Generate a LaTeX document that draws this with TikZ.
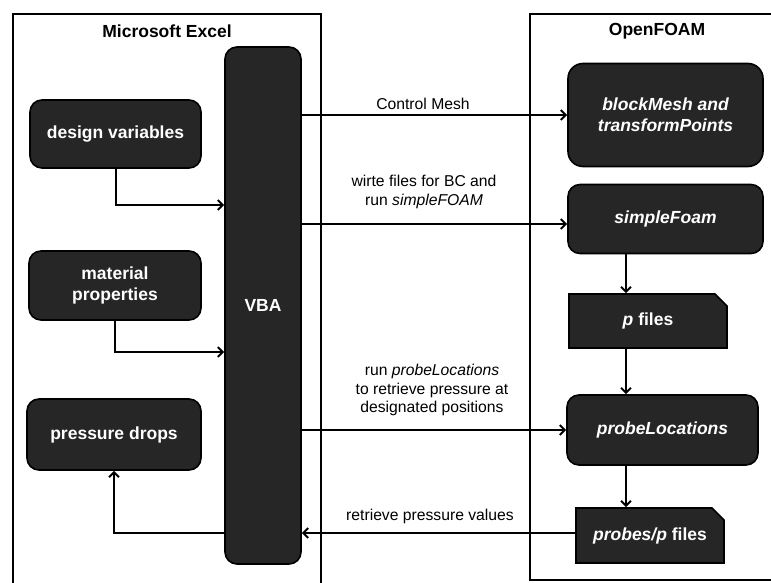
\documentclass[tikz,border=0pt]{standalone}
\usepackage{fontspec}
\setmainfont{Liberation Sans}
\usetikzlibrary{arrows.meta,shapes.misc}
\definecolor{boxfill}{HTML}{262626}
\tikzset{
  frameline/.style={line width=2pt, black},
  darkbox/.style={draw=black, line width=1.6pt, fill=boxfill, rounded corners=12pt,
    text=white, align=center, inner sep=0pt,
    font=\fontsize{17.5}{21}\selectfont\bfseries},
  filebox/.style={draw=black, line width=1.6pt, fill=boxfill, chamfered rectangle,
    chamfered rectangle corners=north east, chamfered rectangle xsep=6pt,
    chamfered rectangle ysep=6pt,
    text=white, align=center, inner sep=0pt,
    font=\fontsize{17.5}{21}\selectfont\bfseries},
  conn/.style={line width=2pt, -{Straight Barb[length=5pt,width=10pt,line width=2pt]}},
  lbl/.style={align=center, inner sep=0pt, font=\fontsize{15.7}{18.5}\selectfont},
  ttl/.style={inner sep=0pt, font=\fontsize{17.5}{21}\selectfont\bfseries}
}
\begin{document}
\begin{tikzpicture}[x=1pt,y=-1pt]
\useasboundingbox (0,0) rectangle (771,583);
% frames
\draw[frameline] (13,583) -- (13,14) -- (321,14) -- (321,583);
\draw[frameline] (771,14) -- (530,14) -- (530,580) -- (771,580);
\node[ttl] (t1) at (167,31) {Microsoft Excel};
\node[ttl] (t2) at (657,31) {OpenFOAM};
% Excel boxes
\node[darkbox, minimum width=171pt, minimum height=68pt] (design) at (115.5,134) {design variables};
\node[darkbox, minimum width=172pt, minimum height=69pt] (material) at (115,285.5) {material\\properties};
\node[darkbox, minimum width=174pt, minimum height=71pt] (drops) at (114,434.5) {pressure drops};
\node[darkbox, minimum width=76pt, minimum height=517pt] (vba) at (263,305.5) {VBA};
% OpenFOAM boxes
\node[darkbox, rounded corners=15pt, minimum width=195pt, minimum height=103pt] (block) at (665.5,115) {\itshape blockMesh and\\\itshape transformPoints};
\node[darkbox, minimum width=195pt, minimum height=69pt] (simple) at (665.5,219) {\itshape simpleFoam};
\node[filebox, minimum width=158pt, minimum height=54pt] (pfiles) at (648,321) {\itshape p\upshape{} files};
\node[darkbox, minimum width=191pt, minimum height=70pt] (probe) at (662.5,430) {\itshape probeLocations};
\node[filebox, minimum width=148pt, minimum height=55pt] (probes) at (650,535.5) {\itshape probes/p\upshape{} files};
% helper coordinates
\coordinate (y1) at (0,205);
\coordinate (y2) at (0,352);
\coordinate (y3) at (0,224);
\coordinate (y4) at (0,533);
\coordinate (cx) at (626,0);
% connectors
\draw[conn] (design.south) |- (vba.west |- y1);
\draw[conn] (material.south) |- (vba.west |- y2);
\draw[conn] (vba.west |- y4) -| (drops.south);
\draw[conn] (vba.east |- block.west) -- (block.west);
\draw[conn] (vba.east |- y3) -- (simple.west |- y3);
\draw[conn] (vba.east |- probe.west) -- (probe.west);
\draw[conn] (probes.west |- y4) -- (vba.east |- y4);
\draw[conn] (simple.south -| cx) -- (pfiles.north -| cx);
\draw[conn] (pfiles.south -| cx) -- (probe.north -| cx);
\draw[conn] (probe.south -| cx) -- (probes.north -| cx);
% labels
\node[lbl] (l1) at (423,104) {Control Mesh};
\node[lbl] (l2) at (424,192) {wirte files for BC and\\run \textit{simpleFOAM}};
\node[lbl] (l3) at (432,390) {run \textit{probeLocations}\\to retrieve pressure at\\designated positions};
\node[lbl] (l4) at (430,516) {retrieve pressure values};
\end{tikzpicture}
\end{document}
